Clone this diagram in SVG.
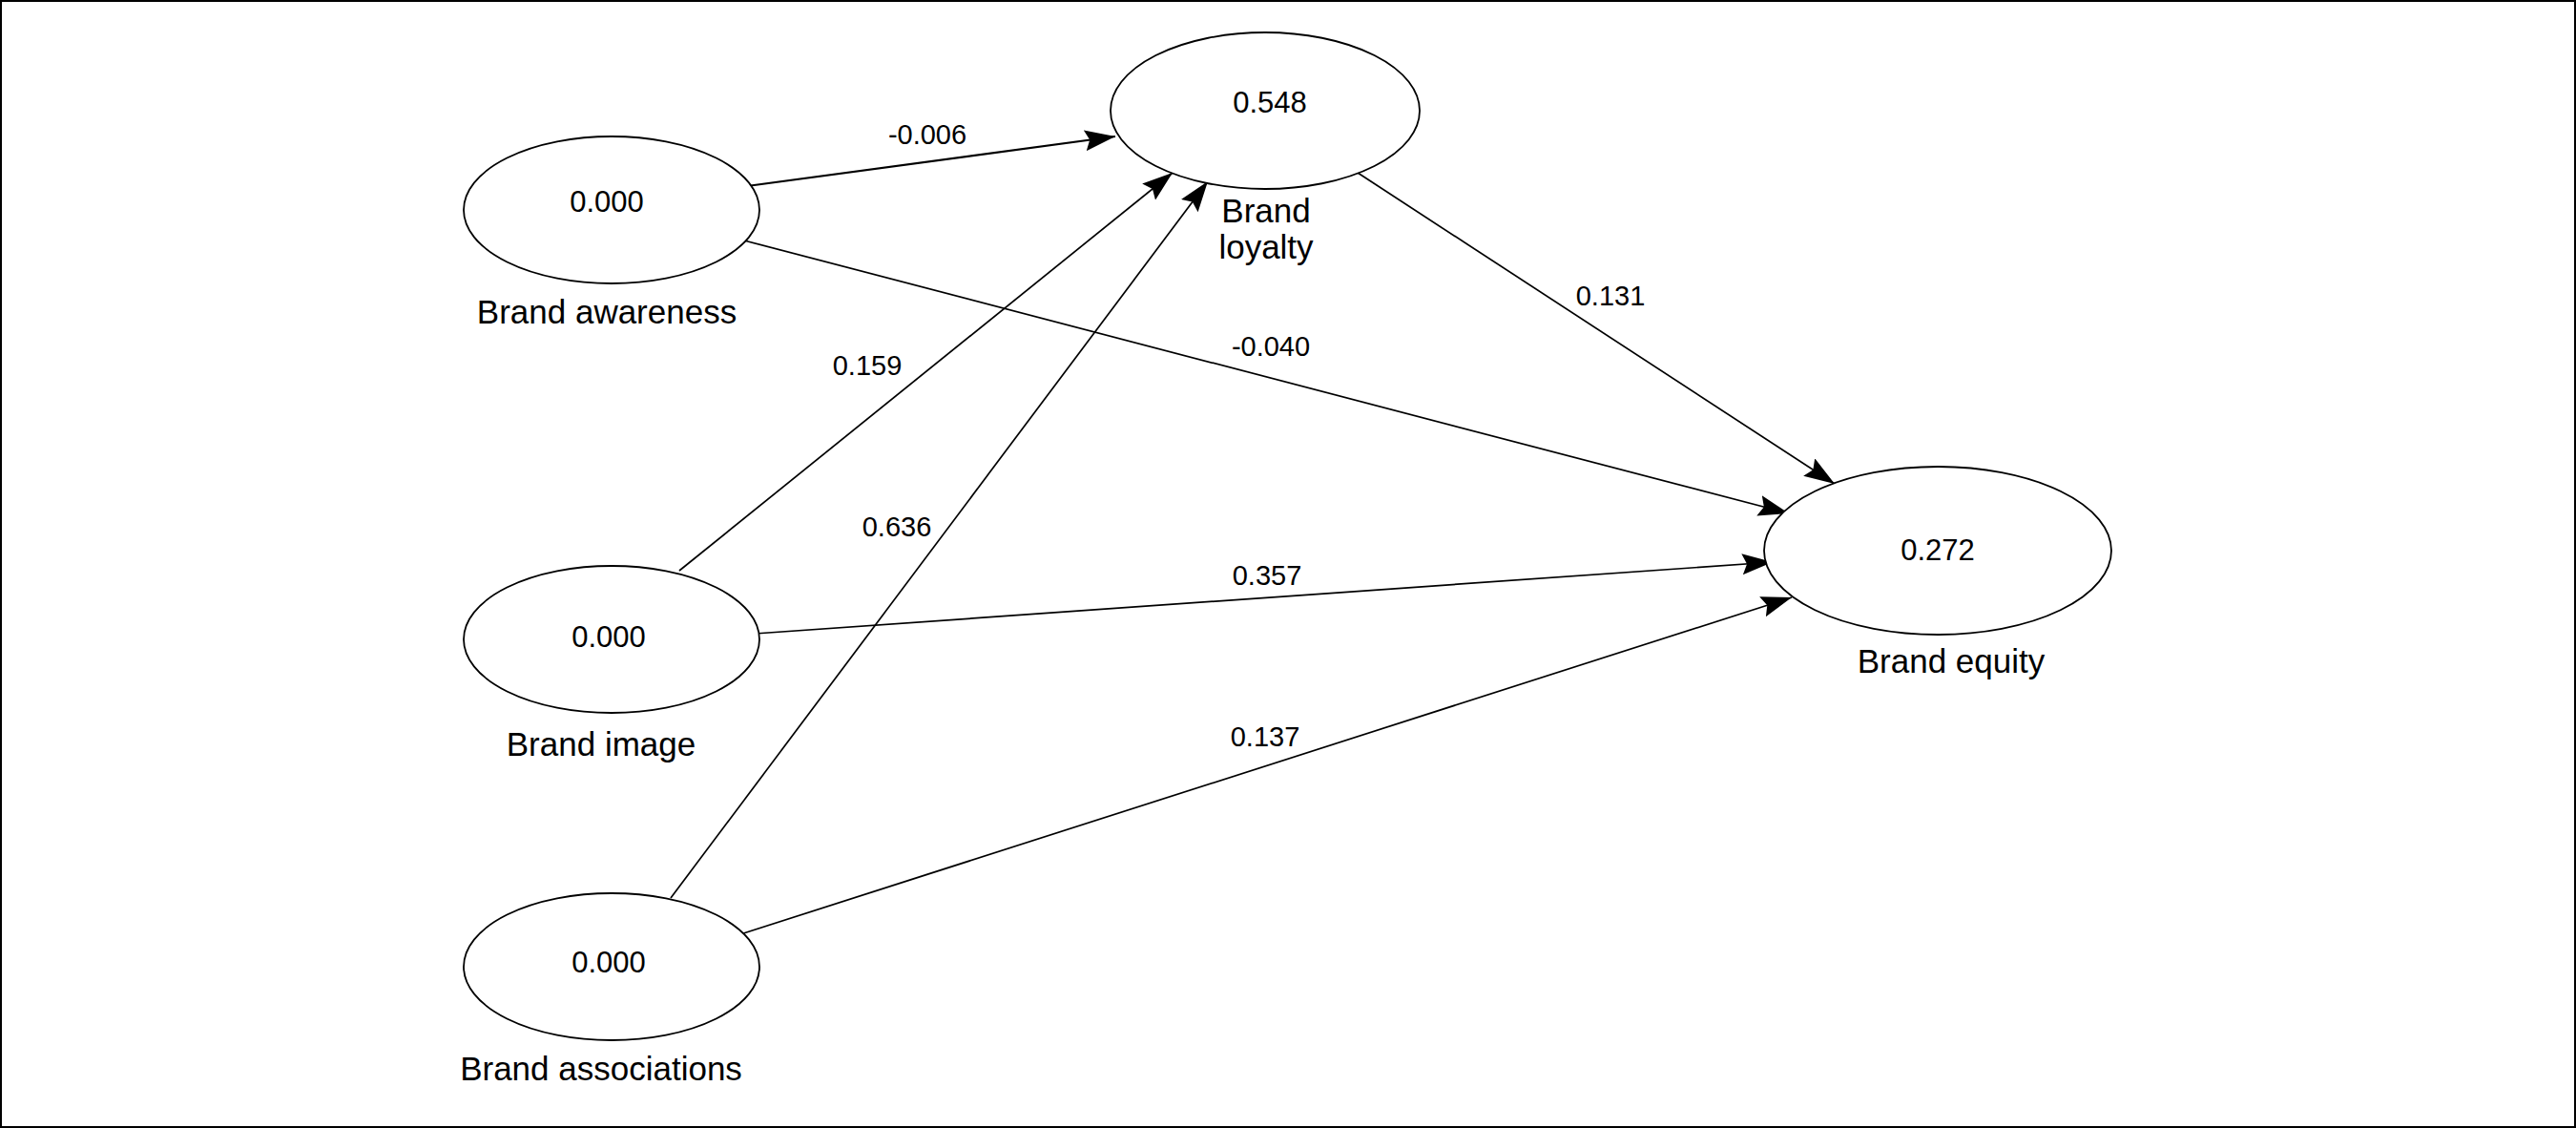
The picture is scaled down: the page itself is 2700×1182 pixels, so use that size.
<svg xmlns="http://www.w3.org/2000/svg" width="2700" height="1182" viewBox="0 0 2700 1182">
<style>
.node ellipse{fill:#fff;stroke:#000;stroke-width:1.8}
.val{font-family:"Liberation Sans",Arial,sans-serif;font-size:31px;text-anchor:middle;fill:#000}
.lbl{font-family:"Liberation Sans",Arial,sans-serif;font-size:35px;text-anchor:middle;fill:#000}
.elbl{font-family:"Liberation Sans",Arial,sans-serif;font-size:29px;text-anchor:middle;fill:#000}
.edge{fill:none;stroke:#000;stroke-width:1.7;marker-end:url(#arr)}
</style>
<defs>
<marker id="arr" viewBox="0 0 32 22" refX="32" refY="11" markerWidth="32" markerHeight="22" markerUnits="userSpaceOnUse" orient="auto">
<path d="M0,0 L32,11 L0,22 L5,11 Z" fill="#000"/>
</marker>
</defs>
<rect x="1" y="1" width="2698" height="1180" fill="#fff" stroke="#000" stroke-width="2"/>
<g id="connectors">
<line class="edge" x1="783" y1="195" x2="1169" y2="143" style="stroke-width:2.2"/>
<line class="edge" x1="780" y1="252" x2="1875" y2="538"/>
<line class="edge" x1="712" y1="598" x2="1229" y2="181"/>
<line class="edge" x1="703" y1="941" x2="1266" y2="190"/>
<line class="edge" x1="1423" y1="181" x2="1923" y2="507"/>
<line class="edge" x1="791" y1="664" x2="1858" y2="589"/>
<line class="edge" x1="773" y1="980" x2="1878" y2="626"/>
<text class="elbl" x="972" y="151">-0.006</text>
<text class="elbl" x="909" y="393">0.159</text>
<text class="elbl" x="1332" y="373">-0.040</text>
<text class="elbl" x="1688" y="320">0.131</text>
<text class="elbl" x="940" y="562">0.636</text>
<text class="elbl" x="1328" y="613">0.357</text>
<text class="elbl" x="1326" y="782">0.137</text>
</g>
<g id="brand-awareness" class="node">
<ellipse cx="641" cy="220" rx="155" ry="77"/>
<text class="val" x="636" y="222">0.000</text>
<text class="lbl" x="636" y="339">Brand awareness</text>
</g>
<g id="brand-loyalty" class="node">
<ellipse cx="1326" cy="116" rx="162" ry="82"/>
<text class="val" x="1331" y="118">0.548</text>
<text class="lbl" x="1327" y="233">Brand</text>
<text class="lbl" x="1327" y="271">loyalty</text>
</g>
<g id="brand-image" class="node">
<ellipse cx="641" cy="670" rx="155" ry="77"/>
<text class="val" x="638" y="678">0.000</text>
<text class="lbl" x="630" y="792">Brand image</text>
</g>
<g id="brand-associations" class="node">
<ellipse cx="641" cy="1013" rx="155" ry="77"/>
<text class="val" x="638" y="1019">0.000</text>
<text class="lbl" x="630" y="1132">Brand associations</text>
</g>
<g id="brand-equity" class="node">
<ellipse cx="2031" cy="577" rx="182" ry="88"/>
<text class="val" x="2031" y="587">0.272</text>
<text class="lbl" x="2045" y="705">Brand equity</text>
</g>
</svg>
